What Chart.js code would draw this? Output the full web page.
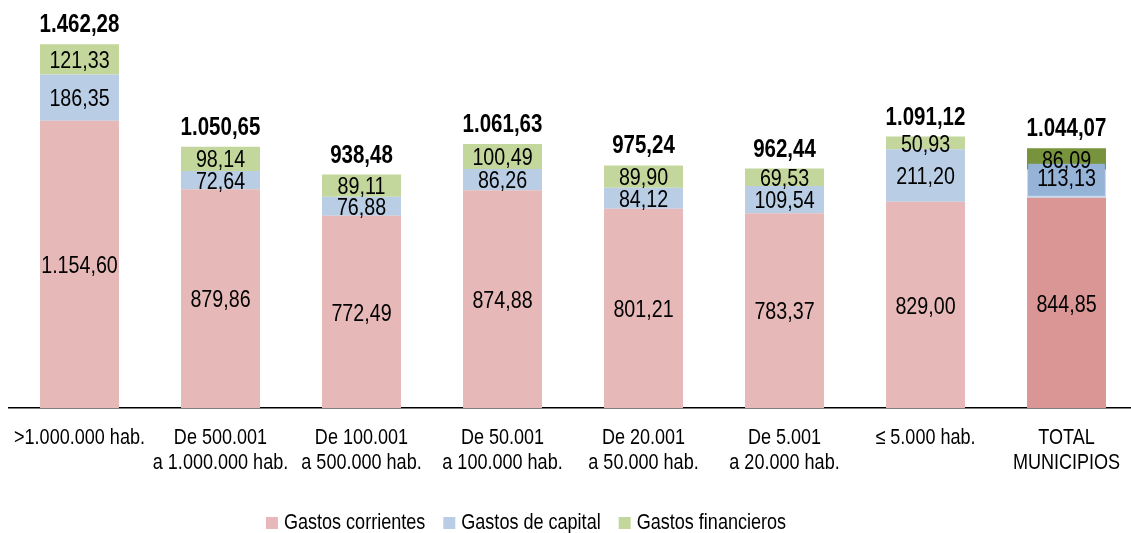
<!DOCTYPE html>
<html>
<head>
<meta charset="utf-8">
<script src="https://cdn.jsdelivr.net/npm/chart.js@4.4.8/dist/chart.umd.min.js"></script>
<style>
  html, body { margin: 0; padding: 0; background: #fff; }
  #wrap { width: 1131px; height: 533px; position: relative; overflow: hidden; }
  #chart { position: absolute; left: 0; top: 0; }
</style>
</head>
<body>
<div id="wrap"><canvas id="chart" width="1137" height="533"></canvas></div>
<script>
const FONT = "'Liberation Sans', Arial, sans-serif";
const NARROW = 0.82;

const categories = [
  [">1.000.000 hab."],
  ["De 500.001", "a 1.000.000 hab."],
  ["De 100.001", "a 500.000 hab."],
  ["De 50.001", "a 100.000 hab."],
  ["De 20.001", "a 50.000 hab."],
  ["De 5.001", "a 20.000 hab."],
  ["\u2264 5.000 hab."],
  ["TOTAL", "MUNICIPIOS"]
];
const seriesNames = ["Gastos corrientes", "Gastos de capital", "Gastos financieros"];
const corrientes = [1154.60, 879.86, 772.49, 874.88, 801.21, 783.37, 829.00, 844.85];
const capital = [186.35, 72.64, 76.88, 86.26, 84.12, 109.54, 211.20, 113.13];
const financieros = [121.33, 98.14, 89.11, 100.49, 89.90, 69.53, 50.93, 86.09];
const totals = [1462.28, 1050.65, 938.48, 1061.63, 975.24, 962.44, 1091.12, 1044.07];

const lightColors = ["#e6b9b8", "#b9cde5", "#c3d69b"];
const darkColors = ["#d99694", "#c6d9f1", "#77933c"];
const TOTAL_INDEX = 7;

function fmt(v) {
  const parts = v.toFixed(2).split(".");
  const intPart = parts[0].replace(/\B(?=(\d{3})+(?!\d))/g, ".");
  return intPart + "," + parts[1];
}

function colorFor(i) {
  return (ctx) => (ctx.dataIndex === TOTAL_INDEX ? darkColors[i] : lightColors[i]);
}

// text squeezed horizontally, like a narrow typeface
function narrowText(ctx, text, x, y, font, align) {
  ctx.save();
  ctx.font = font;
  ctx.textAlign = align || "center";
  ctx.translate(x, y);
  ctx.scale(NARROW, 1);
  ctx.fillText(text, 0, 0);
  ctx.restore();
}

function narrowWidth(ctx, text, font) {
  ctx.save();
  ctx.font = font;
  const w = ctx.measureText(text).width * NARROW;
  ctx.restore();
  return w;
}

const customText = {
  id: "customText",
  afterDatasetsDraw(chart) {
    const ctx = chart.ctx;
    const valFont = "24px " + FONT;
    ctx.save();
    ctx.fillStyle = "#000";
    ctx.textBaseline = "middle";

    chart.data.datasets.forEach((ds, di) => {
      const meta = chart.getDatasetMeta(di);
      meta.data.forEach((bar, i) => {
        let y = (bar.y + bar.base) / 2 + 2;
        const text = fmt(ds.data[i]);
        if (i === TOTAL_INDEX && di === 1) {
          y -= 6;
          const w = narrowWidth(ctx, text, valFont) + 18;
          ctx.fillStyle = "#95b3d7";
          ctx.fillRect(bar.x - w / 2, y - 16, w, 32);
          ctx.fillStyle = "#000";
        }
        narrowText(ctx, text, bar.x, y, valFont);
      });
    });

    // totals above the stacks
    const lastMeta = chart.getDatasetMeta(chart.data.datasets.length - 1);
    ctx.textBaseline = "alphabetic";
    lastMeta.data.forEach((bar, i) => {
      narrowText(ctx, fmt(totals[i]), bar.x, bar.y - 12, "bold 25px " + FONT);
    });

    // category labels
    const xScale = chart.scales.x;
    const tickFont = "22px " + FONT;
    ctx.textBaseline = "middle";
    categories.forEach((lines, i) => {
      const x = xScale.getPixelForValue(i);
      lines.forEach((line, li) => {
        narrowText(ctx, line, x, 438 + li * 25, tickFont);
      });
    });

    // legend
    const legFont = "22px " + FONT;
    const box = 12, gapText = 6, gapItem = 18;
    const widths = seriesNames.map((n) => narrowWidth(ctx, n, legFont));
    const total = widths.reduce((a, w) => a + box + gapText + w, 0) + gapItem * (seriesNames.length - 1);
    let lx = 526 - total / 2;
    const ly = 523;
    seriesNames.forEach((n, i) => {
      ctx.fillStyle = lightColors[i];
      ctx.fillRect(lx, ly - box / 2, box, box);
      ctx.fillStyle = "#000";
      narrowText(ctx, n, lx + box + gapText, ly, legFont, "left");
      lx += box + gapText + widths[i] + gapItem;
    });
    ctx.restore();
  }
};

new Chart(document.getElementById("chart"), {
  type: "bar",
  data: {
    labels: categories,
    datasets: [
      { label: seriesNames[0], data: corrientes, backgroundColor: colorFor(0) },
      { label: seriesNames[1], data: capital, backgroundColor: colorFor(1) },
      { label: seriesNames[2], data: financieros, backgroundColor: colorFor(2) }
    ]
  },
  options: {
    responsive: false,
    animation: false,
    devicePixelRatio: 1,
    datasets: {
      bar: { categoryPercentage: 1, barPercentage: 0.56, borderWidth: 0 }
    },
    layout: { padding: { top: 10, left: 9, right: 0, bottom: 117 } },
    plugins: {
      tooltip: { enabled: false },
      legend: { display: false }
    },
    scales: {
      x: {
        stacked: true,
        grid: { display: false },
        border: { display: true, color: "#000", width: 1.5 },
        ticks: { display: false }
      },
      y: {
        stacked: true,
        display: false,
        min: 0,
        max: 1600
      }
    }
  },
  plugins: [customText]
});
</script>
</body>
</html>
